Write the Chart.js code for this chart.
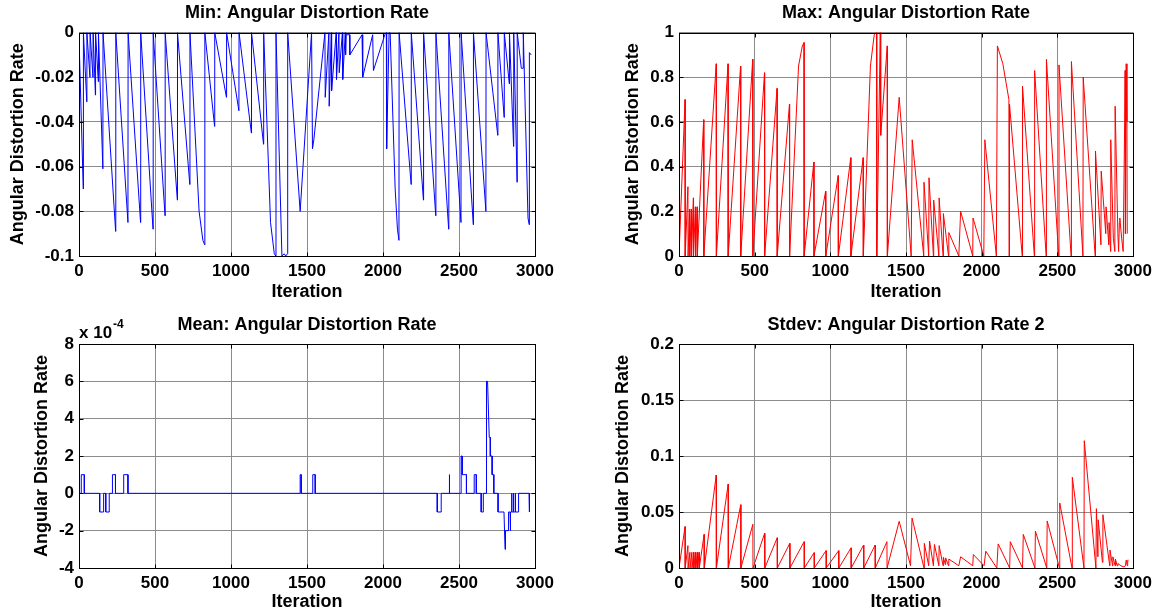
<!DOCTYPE html>
<html><head><meta charset="utf-8">
<script src="https://cdn.jsdelivr.net/npm/chart.js@4.4.1/dist/chart.umd.min.js"></script>
<style>
html,body{margin:0;padding:0;background:#fff;}
body{width:1166px;height:613px;position:relative;overflow:hidden;}
.p{position:absolute;}
canvas{display:block;}
</style></head><body>
<div class="p" style="left:0;top:0;"><canvas id="c1" width="583" height="306"></canvas></div>
<div class="p" style="left:583px;top:0;"><canvas id="c2" width="583" height="306"></canvas></div>
<div class="p" style="left:0;top:306px;"><canvas id="c3" width="583" height="307"></canvas></div>
<div class="p" style="left:583px;top:306px;"><canvas id="c4" width="583" height="307"></canvas></div>
<script>
// ---------- data (iteration, value) ----------
const xTicks = [0, 500, 1000, 1500, 2000, 2500, 3000];

const minIter = [0,28,29,51,52,72,73,92,93,108,109,127,128,157,158,241,242,322,323,405,406,487,488,566,567,647,648,729,730,790,815,827,828,892,893,970,971,1052,1053,1134,1135,1214,1215,1260,1285,1295,1296,1335,1350,1360,1372,1373,1455,1530,1536,1545,1618,1620,1644,1646,1660,1662,1692,1694,1710,1712,1733,1735,1752,1754,1758,1780,1782,1862,1866,1867,1932,1937,2012,2022,2024,2040,2047,2080,2095,2105,2106,2185,2186,2266,2267,2347,2348,2432,2433,2513,2514,2594,2595,2677,2678,2755,2756,2797,2798,2831,2832,2859,2860,2882,2883,2910,2922,2923,2954,2962,2963,2975];
const minValue = [-0.002,-0.070,0,-0.031,0,-0.020,0,-0.020,0,-0.028,0,-0.022,0,-0.061,0,-0.089,0,-0.085,0,-0.085,0,-0.088,0,-0.082,0,-0.075,0,-0.068,0,-0.080,-0.093,-0.095,0,-0.042,0,-0.029,0,-0.035,0,-0.045,0,-0.050,0,-0.085,-0.099,-0.100,0,-0.100,-0.099,-0.100,-0.099,0,-0.080,0,-0.052,-0.048,0,-0.029,0,-0.033,0,-0.026,0,-0.021,0,-0.018,0,-0.021,0,-0.010,-0.001,-0.001,-0.010,-0.001,-0.001,-0.020,-0.001,-0.017,-0.001,0,-0.052,0,0,-0.070,-0.088,-0.093,0,-0.068,0,-0.075,0,-0.082,0,-0.088,0,-0.085,0,-0.086,0,-0.080,0,-0.046,0,-0.038,0,-0.023,0,-0.051,0,-0.067,0,-0.016,-0.016,0,-0.083,-0.086,-0.009,-0.010];

const maxIter = [0,40,41,59,60,70,71,82,83,95,96,108,109,120,121,163,164,246,247,324,325,407,408,487,488,565,566,648,649,730,731,790,815,826,827,891,892,969,970,1052,1053,1135,1136,1217,1218,1265,1290,1305,1307,1330,1333,1376,1377,1455,1534,1541,1617,1619,1650,1652,1681,1683,1717,1719,1745,1747,1781,1783,1849,1861,1941,1943,2014,2021,2097,2104,2140,2180,2181,2184,2268,2270,2348,2350,2426,2428,2509,2511,2591,2593,2669,2671,2750,2752,2788,2790,2820,2822,2840,2842,2852,2853,2870,2880,2882,2900,2905,2910,2913,2925,2935,2945,2948,2950,2955,2960,2962];
const maxValue = [0,0.70,0,0.31,0,0.21,0,0.21,0,0.26,0,0.22,0,0.22,0,0.61,0,0.86,0,0.86,0,0.85,0,0.88,0,0.82,0,0.75,0,0.68,0,0.85,0.94,0.955,0,0.42,0,0.29,0,0.36,0,0.44,0,0.44,0,0.85,0.99,1.0,0,1.0,0.54,0.94,0,0.71,0,0.52,0,0.33,0,0.35,0,0.25,0,0.26,0,0.19,0,0.105,0,0.20,0,0.17,0,0.52,0,0.94,0.86,0.70,0,0.68,0,0.76,0,0.83,0,0.88,0,0.855,0,0.87,0,0.80,0,0.47,0.05,0.38,0.10,0.22,0.05,0.15,0.02,0.52,0.08,0.02,0.67,0.10,0.02,0.15,0.17,0.08,0.02,0.60,0.83,0.10,0.86,0.60,0.10];

const meanIter = [0,15,15,35,35,136,136,162,162,176,176,199,199,220,220,240,240,294,294,322,322,1455,1455,1462,1462,1538,1538,1554,1554,2357,2357,2383,2383,2436,2436,2438,2438,2514,2514,2521,2521,2549,2549,2600,2600,2614,2614,2646,2646,2660,2660,2681,2681,2688,2699,2706,2706,2718,2718,2729,2729,2757,2757,2796,2803,2806,2826,2826,2836,2836,2840,2840,2846,2846,2848,2848,2858,2858,2860,2860,2870,2870,2872,2872,2892,2892,2961,2961,2966];
const meanValue = [0,0,1e-4,1e-4,0,0,-1e-4,-1e-4,0,0,-1e-4,-1e-4,0,0,1e-4,1e-4,0,0,1e-4,1e-4,0,0,1e-4,1e-4,0,0,1e-4,1e-4,0,0,-1e-4,-1e-4,0,0,1e-4,1e-4,0,0,2e-4,2e-4,1e-4,1e-4,0,0,1e-4,1e-4,0,0,-1e-4,-1e-4,0,0,6e-4,6e-4,3e-4,3e-4,2e-4,2e-4,1e-4,1e-4,0,0,-1e-4,-1e-4,-3e-4,-2e-4,-2e-4,-1e-4,-1e-4,-2e-4,-2e-4,-1e-4,-1e-4,0,0,-1e-4,-1e-4,0,0,-1e-4,-1e-4,0,0,-1e-4,-1e-4,0,0,-1e-4,-1e-4];

const stdIter = [0,40,41,59,60,72,73,85,86,97,98,110,111,122,123,133,134,166,167,246,247,325,326,408,409,488,489,566,567,649,650,732,733,827,828,893,894,972,973,1055,1056,1137,1138,1220,1221,1296,1297,1374,1375,1455,1530,1540,1619,1621,1650,1656,1681,1688,1717,1719,1745,1747,1760,1762,1781,1783,1849,1861,1941,1945,2016,2027,2100,2109,2185,2189,2270,2275,2352,2355,2430,2433,2514,2516,2597,2599,2676,2678,2755,2758,2768,2770,2798,2801,2846,2848,2865,2867,2882,2884,2895,2900,2920,2940,2950,2955,2962,2965,2970];
const stdValue = [0,0.037,0,0.020,0,0.014,0,0.014,0,0.014,0,0.014,0,0.014,0,0.014,0,0.030,0,0.083,0,0.075,0,0.0565,0,0.039,0,0.031,0,0.027,0,0.022,0,0.0235,0,0.0137,0,0.0155,0,0.0155,0,0.018,0,0.0205,0,0.0205,0,0.0235,0,0.0417,0.002,0.0446,0,0.022,0.002,0.024,0.002,0.021,0.002,0.020,0.002,0.0095,0.003,0.009,0.002,0.008,0.002,0.010,0.002,0.012,0.002,0.015,0,0.0215,0,0.0235,0,0.030,0,0.033,0,0.042,0,0.058,0,0.081,0,0.1137,0,0.053,0.010,0.043,0.005,0.0476,0.002,0.016,0.002,0.010,0.002,0.008,0.002,0.004,0.002,0.001,0.002,0.007,0.002,0.007,0.007];

// ---------- drawing ----------
const FONT = "'Liberation Sans', Arial, Helvetica, sans-serif";
const pairs = (xs, ys) => xs.map((x, i) => ({x: x, y: ys[i]}));

const boxPlugin = {
  id: 'matlabBox',
  afterDraw(chart) {
    const {ctx, chartArea: a, scales} = chart;
    ctx.save();
    ctx.strokeStyle = '#000';
    ctx.lineWidth = 1;
    const l = Math.round(a.left) + 0.5, t = Math.round(a.top) + 0.5;
    const r = Math.round(a.right) + 0.5, b = Math.round(a.bottom) + 0.5;
    ctx.strokeRect(l, t, r - l, b - t);
    const L = 4;
    ctx.beginPath();
    scales.x.ticks.forEach(tk => {
      const px = Math.round(scales.x.getPixelForValue(tk.value)) + 0.5;
      ctx.moveTo(px, b); ctx.lineTo(px, b - L);
      ctx.moveTo(px, t); ctx.lineTo(px, t + L);
    });
    scales.y.ticks.forEach(tk => {
      const py = Math.round(scales.y.getPixelForValue(tk.value)) + 0.5;
      ctx.moveTo(l, py); ctx.lineTo(l + L, py);
      ctx.moveTo(r, py); ctx.lineTo(r - L, py);
    });
    ctx.stroke();
    const ex = chart.options.plugins.matlabBox && chart.options.plugins.matlabBox.exponent;
    if (ex) {
      ctx.fillStyle = '#000';
      ctx.textBaseline = 'middle';
      ctx.textAlign = 'left';
      ctx.font = 'bold 17px ' + FONT;
      const base = 'x 10';
      ctx.fillText(base, a.left, a.top - 11);
      const w = ctx.measureText(base).width;
      ctx.font = 'bold 12px ' + FONT;
      ctx.fillText(ex, a.left + w + 1, a.top - 19);
    }
    ctx.restore();
  }
};

function makeChart(id, c) {
  const tickFont = {family: FONT, size: 17, weight: 'bold'};
  const labelFont = {family: FONT, size: 18, weight: 'bold'};
  return new Chart(document.getElementById(id), {
    type: 'line',
    data: {datasets: [{data: pairs(c.xs, c.ys), borderColor: c.color, borderWidth: 1,
      pointRadius: 0, tension: 0, fill: false, spanGaps: true}]},
    options: {
      responsive: false, animation: false, devicePixelRatio: 1,
      layout: {padding: {left: 0, right: c.padRight, top: 0, bottom: 0}},
      plugins: {
        legend: {display: false}, tooltip: {enabled: false},
        title: {display: true, text: c.title, fullSize: false, color: '#000', font: labelFont,
          padding: {top: c.titleTop, bottom: c.titleBottom}},
        matlabBox: {exponent: c.exponent || null}
      },
      scales: {
        x: {
          type: 'linear', min: 0, max: 3000,
          afterBuildTicks: s => { s.ticks = xTicks.map(v => ({value: v})); },
          ticks: {color: '#000', font: tickFont, padding: 5, maxRotation: 0, autoSkip: false,
            callback: v => String(v)},
          grid: {color: '#8c8c8c', drawTicks: false, lineWidth: 1},
          border: {display: false},
          title: {display: true, text: 'Iteration', color: '#000', font: labelFont,
            padding: {top: 0, bottom: c.xTitlePad}},
          afterFit: s => { s.height = c.xH; }
        },
        y: {
          type: 'linear', min: c.yMin, max: c.yMax,
          afterBuildTicks: s => { s.ticks = c.yTicks.map(v => ({value: v})); },
          ticks: {color: '#000', font: tickFont, padding: 5, autoSkip: false,
            callback: c.yFmt},
          grid: {color: '#8c8c8c', drawTicks: false, lineWidth: 1},
          border: {display: false},
          title: {display: true, text: 'Angular Distortion Rate', color: '#000', font: labelFont,
            padding: {top: c.yTitlePad, bottom: 0}},
          afterFit: s => { s.width = c.yW; }
        }
      }
    },
    plugins: [boxPlugin]
  });
}

const minTicks = [-0.1, -0.08, -0.06, -0.04, -0.02, 0];
const maxTicks = [0, 0.2, 0.4, 0.6, 0.8, 1];
const meanTicks = [-4e-4, -2e-4, 0, 2e-4, 4e-4, 6e-4, 8e-4];
const stdTicks = [0, 0.05, 0.1, 0.15, 0.2];
const fmt = v => String(Math.round(v * 1000) / 1000);

makeChart('c1', {xs: minIter, ys: minValue, color: '#0000ff', title: 'Min: Angular Distortion Rate',
  yMin: -0.1, yMax: 0, yTicks: minTicks, yFmt: fmt, yW: 79, padRight: 48,
  titleTop: 2.2, titleBottom: 8.7, xH: 50, xTitlePad: 3.2, yTitlePad: 7.7});
makeChart('c2', {xs: maxIter, ys: maxValue, color: '#ff0000', title: 'Max: Angular Distortion Rate',
  yMin: 0, yMax: 1, yTicks: maxTicks, yFmt: fmt, yW: 96, padRight: 33,
  titleTop: 2.2, titleBottom: 8.7, xH: 50, xTitlePad: 3.2, yTitlePad: 39.7});
makeChart('c3', {xs: meanIter, ys: meanValue, color: '#0000ff', title: 'Mean: Angular Distortion Rate',
  yMin: -4e-4, yMax: 8e-4, yTicks: meanTicks, yFmt: v => String(Math.round(v * 1e4)), yW: 79, padRight: 48,
  titleTop: 8.2, titleBottom: 8.2, xH: 45, xTitlePad: 0, yTitlePad: 31.2, exponent: '-4'});
makeChart('c4', {xs: stdIter, ys: stdValue, color: '#ff0000', title: 'Stdev: Angular Distortion Rate 2',
  yMin: 0, yMax: 0.2, yTicks: stdTicks, yFmt: fmt, yW: 96, padRight: 33,
  titleTop: 8.2, titleBottom: 8.2, xH: 45, xTitlePad: 0, yTitlePad: 29.2});
</script>
</body></html>
